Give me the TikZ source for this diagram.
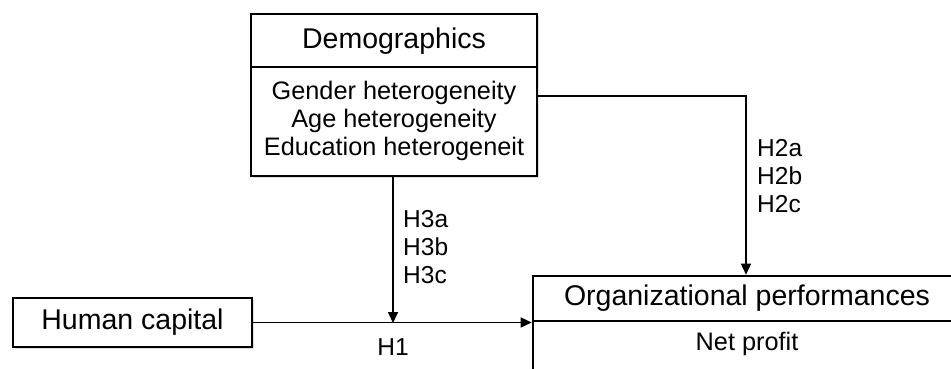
\documentclass[tikz,border=0pt]{standalone}
\usepackage{fontspec}
\setmainfont{Liberation Sans}
\usetikzlibrary{arrows.meta,shadows}
\begin{document}
\begin{tikzpicture}[x=1pt,y=-1pt,
  box/.style={draw, line width=2.6pt, fill=white, inner sep=0pt,
    drop shadow={shadow xshift=2pt, shadow yshift=-2pt, opacity=0.25}},
  big/.style={font=\fontsize{28.5}{30}\selectfont, inner sep=0pt},
  small/.style={font=\fontsize{25.3}{28.3}\selectfont, inner sep=0pt, align=center},
  lab/.style={font=\fontsize{24.5}{28}\selectfont, inner sep=0pt, align=left},
  arr/.style={line width=1.6pt, -{Triangle[length=11pt,width=10pt]}},
  ln/.style={line width=2.6pt}]
\clip (0,0) rectangle (951,368);
\useasboundingbox (0,0) rectangle (951,368);
% boxes
\node[box, minimum width=286pt, minimum height=162pt] (demo) at (394,95) {};
\draw[ln] (demo.west |- 0,67) -- (demo.east |- 0,67);
\node[big] (demotitle) at (394,41) {Demographics};
\node[small] (demolist) at (394,121) {Gender heterogeneity\\Age heterogeneity\\Education heterogeneit};
\node[box, minimum width=239pt, minimum height=49pt] (hc) at (132.5,322.5) {};
\node[big] (hctext) at (132.5,322) {Human capital};
\node[box, minimum width=428pt, minimum height=140pt] (org) at (747,346) {};
\draw[ln] (org.west |- 0,321) -- (org.east |- 0,321);
\node[big] (orgtitle) at (747,298) {Organizational performances};
\node[small] (orgsub) at (747,344) {Net profit};
% connectors
\coordinate (c1) at (746,96);
\coordinate (j) at (393,323);
\draw[arr] (demo.east |- c1) -| (org.north -| c1);
\draw[arr] (demo.south -| j) -- (j);
\draw[arr] (hc.east) -- (org.west |- hc.east);
% labels
\node[lab, anchor=west] (h2) at (757,176) {H2a\\H2b\\H2c};
\node[lab, anchor=west] (h3) at (403,247) {H3a\\H3b\\H3c};
\node[lab] (h1) at (393,347) {H1};
\end{tikzpicture}
\end{document}
